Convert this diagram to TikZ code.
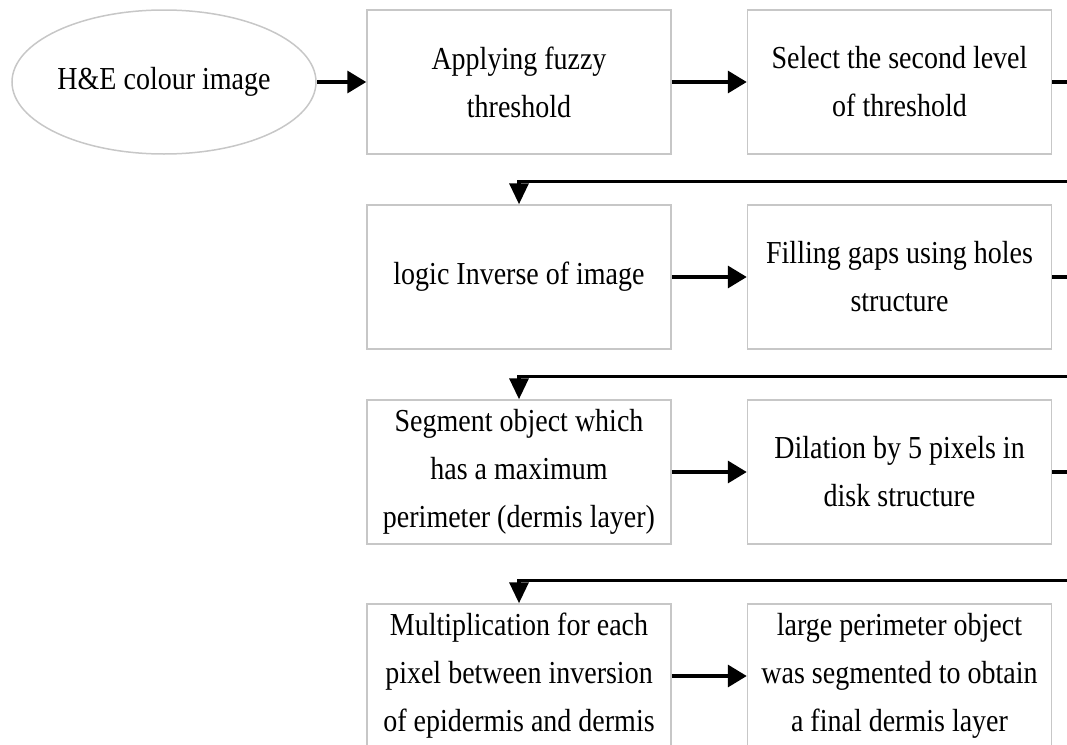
\documentclass[tikz,border=0pt]{standalone}
\usepackage{fontspec}
\setmainfont[FakeStretch=0.875]{Liberation Serif}
\usetikzlibrary{arrows.meta,shapes.geometric}

\begin{document}
\begin{tikzpicture}[x=1pt, y=-1pt,
    every node/.style={font={\fontsize{32}{48}\selectfont}, align=center},
    proc/.style={draw=black!22, line width=1.5pt, minimum width=304pt,
                 minimum height=144pt, inner sep=0pt},
    src/.style={proc, ellipse},
    flow/.style={line width=3.5pt, -{Triangle[length=19pt,width=22pt]}},
    wrap/.style={line width=3.5pt, -{Triangle[length=21pt,width=19pt]}}]

       \useasboundingbox              (0,0) rectangle (1067,744);
       \clip                          (0,0) rectangle (1067,744);

        % row 1
        \node [src]  (img)  at (164,82)    {H\&E colour image};
        \node [proc] (thr)  at (519,82)    {Applying fuzzy\\threshold};
        \node [proc] (lev)  at (899.5,82)  {Select the second level\\of threshold};

        % row 2
        \node [proc] (inv)  at (519,277)   {logic Inverse of image};
        \node [proc] (fill) at (899.5,277) {Filling gaps using holes\\structure};

        % row 3
        \node [proc] (seg)  at (519,472)   {Segment object which\\has a maximum\\perimeter (dermis layer)};
        \node [proc] (dil)  at (899.5,472) {Dilation by 5 pixels in\\disk structure};

        % row 4
        \node [proc] (mul)  at (519,676)   {Multiplication for each\\pixel between inversion\\of epidermis and dermis};
        \node [proc] (fin)  at (899.5,676) {large perimeter object\\was segmented to obtain\\a final dermis layer};

        \draw [flow]  (img) -- (thr);
        \draw [flow]  (thr) -- (lev);
        \draw [flow]  (inv) -- (fill);
        \draw [flow]  (seg) -- (dil);
        \draw [flow]  (mul) -- (fin);

        % wrap round to the next row
        \draw [wrap]  (lev.east)  -- ++(30,0) |- ([yshift=23pt]inv.north) -- (inv.north);
        \draw [wrap]  (fill.east) -- ++(30,0) |- ([yshift=23pt]seg.north) -- (seg.north);
        \draw [wrap]  (dil.east)  -- ++(30,0) |- ([yshift=23pt]mul.north) -- (mul.north);

     \end{tikzpicture}
\end{document}
